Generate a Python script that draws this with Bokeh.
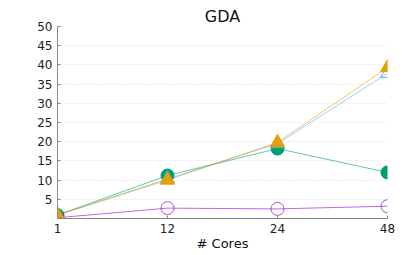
from bokeh.plotting import figure
from bokeh.models import Range1d, FixedTicker
from bokeh.embed import file_html
from bokeh.resources import INLINE

cores = ["1", "12", "24", "48"]
xpos = [0, 1, 2, 3]
s_purple = [0.2, 2.7, 2.5, 3.2]
s_green = [0.9, 11.2, 18.2, 12.0]
s_blue = [0.9, 10.3, 19.5, 37.8]
s_orange = [0.9, 10.0, 19.8, 39.3]
yticks = [5, 10, 15, 20, 25, 30, 35, 40, 45, 50]

FONT = "DejaVu Sans"

p = figure(width=399, height=253, output_backend="svg", toolbar_location=None,
           x_range=Range1d(0, 3), y_range=Range1d(0, 50),
           min_border_left=57, min_border_right=12, min_border_top=26, min_border_bottom=4)
p.title.text = "GDA"
p.title.align = "center"
p.title.text_font = FONT
p.title.text_font_size = "16px"
p.title.text_font_style = "normal"
p.title.text_color = "#111111"
p.title.standoff = 2
p.outline_line_color = None

p.xaxis.ticker = FixedTicker(ticks=xpos)
p.xaxis.major_label_overrides = {i: c for i, c in zip(xpos, cores)}
p.yaxis.ticker = FixedTicker(ticks=yticks)
p.xaxis.axis_label = "# Cores"
for ax in (p.xaxis, p.yaxis):
    ax.axis_line_color = "#888888"
    ax.major_tick_line_color = "#888888"
    ax.major_tick_in = 3
    ax.major_tick_out = 0
    ax.minor_tick_line_color = None
    ax.major_label_text_font = FONT
    ax.major_label_text_font_size = "12px"
    ax.major_label_text_color = "#222222"
    ax.major_label_standoff = 5
p.xaxis.axis_label_text_font = FONT
p.xaxis.axis_label_text_font_size = "13px"
p.xaxis.axis_label_text_font_style = "normal"
p.xaxis.axis_label_text_color = "#111111"
p.xaxis.axis_label_standoff = 0
p.xgrid.grid_line_color = None
p.ygrid.grid_line_color = "#dddddd"
p.ygrid.grid_line_dash = "1 2"

p.line(xpos, s_green, line_color="#009e73", line_width=1, line_alpha=0.6)
p.line(xpos, s_purple, line_color="#9400d3", line_width=1, line_alpha=0.6)
p.line(xpos, s_blue, line_color="#56b4e9", line_width=1, line_alpha=0.6)
p.line(xpos, s_orange, line_color="#e69f00", line_width=1, line_alpha=0.6)

p.scatter(xpos, s_green, marker="circle", size=13, fill_color="#009e73", line_color="#009e73")
p.scatter(xpos, s_purple, marker="circle", size=13, fill_color=None, line_color="#9400d3", line_alpha=0.7)
p.scatter(xpos, s_blue, marker="triangle", size=14, fill_color=None, line_color="#56b4e9")
p.scatter(xpos, s_orange, marker="triangle", size=14, fill_color="#e69f00", line_color="#e69f00")

open("out.html", "w").write(file_html(p, INLINE))
